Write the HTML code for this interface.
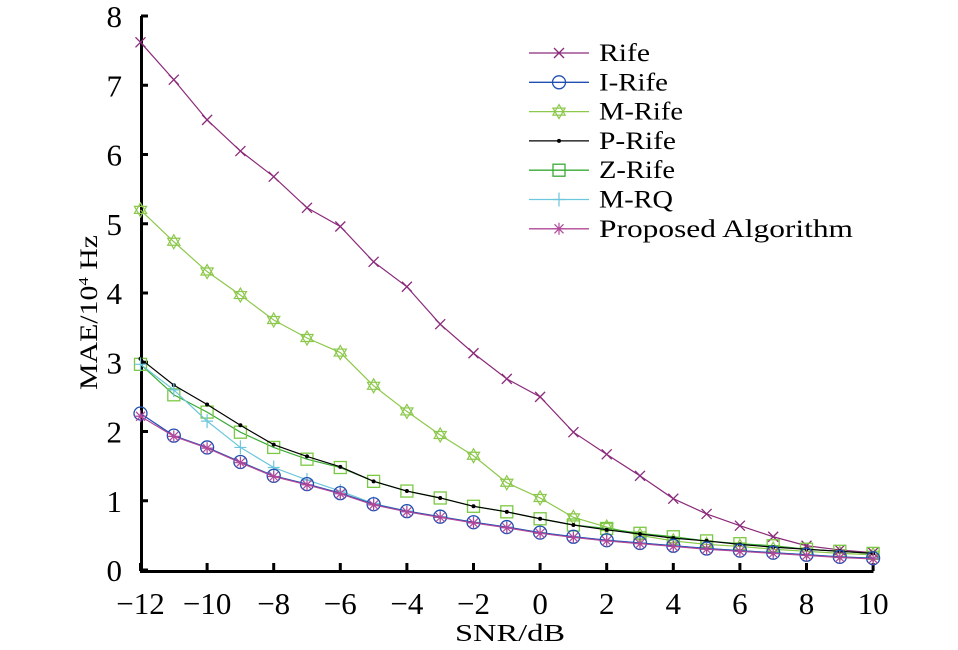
<!DOCTYPE html>
<html><head><meta charset="utf-8"><style>body{margin:0;background:#fff}svg{display:block}text{font-family:"Liberation Serif",serif;fill:#000}</style></head>
<body>
<svg id="s" width="958" height="650" xmlns="http://www.w3.org/2000/svg">
<text x="455" y="641" font-size="24" textLength="110" lengthAdjust="spacingAndGlyphs">SNR/dB</text>
<text transform="translate(97,390) rotate(-90)" font-size="25" textLength="155" lengthAdjust="spacingAndGlyphs">MAE/10<tspan font-size="14" dy="-9">4</tspan><tspan dy="9"> Hz</tspan></text>
</svg>
<script>
const s=document.getElementById('s'),NS='http://www.w3.org/2000/svg';
function el(t,a,p){const e=document.createElementNS(NS,t);for(const k in a)e.setAttribute(k,a[k]);(p||s).appendChild(e);return e;}
const X=v=>140.5+(v+12)*33.3, Y=v=>570-v*69.25;
el('path',{d:'M141.5,16 V571.5 H873.5',fill:'none',stroke:'#000','stroke-width':3});
for(let i=0;i<=8;i++){el('line',{x1:141,x2:148,y1:Y(i),y2:Y(i),stroke:'#000','stroke-width':3});
 const t=el('text',{x:122,y:Y(i)+11,'font-size':31,'text-anchor':'end'});t.textContent=i;}
for(let v=-12;v<=10;v+=2){el('line',{x1:X(v),x2:X(v),y1:571,y2:563,stroke:'#000','stroke-width':3});
 const t=el('text',{x:X(v),y:614,'font-size':31,'text-anchor':'middle'});t.textContent=(v<0?'\u2212'+(-v):v);}
const D={
rife:[7.62,7.08,6.5,6.05,5.68,5.23,4.96,4.45,4.09,3.55,3.13,2.76,2.5,1.99,1.67,1.36,1.03,0.81,0.64,0.48,0.35,0.29,0.25],
mrife:[5.2,4.74,4.31,3.97,3.61,3.35,3.14,2.66,2.29,1.95,1.65,1.26,1.04,0.76,0.62,0.5,0.42,0.37,0.34,0.3,0.27,0.24,0.22],
prife:[3.05,2.67,2.39,2.09,1.81,1.64,1.49,1.28,1.14,1.04,0.92,0.84,0.74,0.65,0.58,0.52,0.46,0.42,0.37,0.33,0.3,0.27,0.24],
zrife:[2.97,2.53,2.28,1.99,1.77,1.6,1.48,1.28,1.14,1.04,0.92,0.84,0.74,0.65,0.6,0.53,0.48,0.42,0.38,0.35,0.3,0.27,0.24],
mrq:[2.97,2.6,2.15,1.77,1.48,1.3,1.14,0.96,0.85,0.77,0.69,0.62,0.54,0.48,0.43,0.39,0.35,0.31,0.28,0.25,0.22,0.19,0.17],
irife:[2.26,1.94,1.77,1.56,1.36,1.24,1.11,0.95,0.85,0.77,0.69,0.62,0.54,0.48,0.43,0.39,0.35,0.31,0.28,0.25,0.22,0.19,0.17],
prop:[2.22,1.93,1.76,1.55,1.35,1.23,1.1,0.94,0.84,0.76,0.68,0.61,0.53,0.47,0.42,0.38,0.34,0.3,0.27,0.24,0.21,0.18,0.16]};
function mark(type,x,y,c){
 if(type=='x')el('path',{d:`M${x-5},${y-5}L${x+5},${y+5}M${x-5},${y+5}L${x+5},${y-5}`,stroke:c,'stroke-width':1.3,fill:'none'});
 else if(type=='o')el('circle',{cx:x,cy:y,r:6.5,stroke:c,'stroke-width':1.3,fill:'none'});
 else if(type=='star'){const r=7;el('path',{d:`M${x},${y-r}L${x+r*.87},${y+r/2}L${x-r*.87},${y+r/2}ZM${x},${y+r}L${x+r*.87},${y-r/2}L${x-r*.87},${y-r/2}Z`,stroke:c,'stroke-width':1.2,fill:'none'});}
 else if(type=='dot')el('circle',{cx:x,cy:y,r:2,fill:c});
 else if(type=='sq')el('rect',{x:x-6,y:y-6,width:12,height:12,stroke:c,'stroke-width':1.3,fill:'none'});
 else if(type=='plus')el('path',{d:`M${x-6},${y}H${x+6}M${x},${y-7}V${y+7}`,stroke:c,'stroke-width':1.2});
 else if(type=='ast')el('path',{d:`M${x-6},${y}H${x+6}M${x},${y-6}V${y+6}M${x-4.5},${y-4.5}L${x+4.5},${y+4.5}M${x-4.5},${y+4.5}L${x+4.5},${y-4.5}`,stroke:c,'stroke-width':1.2});
}
const S=[['rife','Rife','#8b2a7a','x',51],['irife','I-Rife','#1f4fb0','o',69],['mrife','M-Rife','#8cc84b','star',84],['prife','P-Rife','#000','dot',77],['zrife','Z-Rife','#3aaa35','sq',76],['mrq','M-RQ','#6cc6dc','plus',74],['prop','Proposed Algorithm','#b0489a','ast',254]];
const order=['mrife','rife','zrife','prife','mrq','irife','prop'];
order.forEach(k=>{const [,,c,m]=S.find(q=>q[0]==k);const d=D[k];
 el('polyline',{points:d.map((v,i)=>X(i-12)+','+Y(v)).join(' '),fill:'none',stroke:c,'stroke-width':1.2});
 d.forEach((v,i)=>mark(m,X(i-12),Y(v),k=='zrife'?'#7ac943':c));});
S.forEach((q,i)=>{const y=53+i*29.3;el('line',{x1:529,x2:589,y1:y,y2:y,stroke:q[2],'stroke-width':1.3});mark(q[3],559,y,q[0]=='zrife'?'#3aaa35':q[2]);
 const t=el('text',{x:599,y:y+8,'font-size':25,textLength:q[4],lengthAdjust:'spacingAndGlyphs'});t.textContent=q[1];});
</script>
</body></html>
